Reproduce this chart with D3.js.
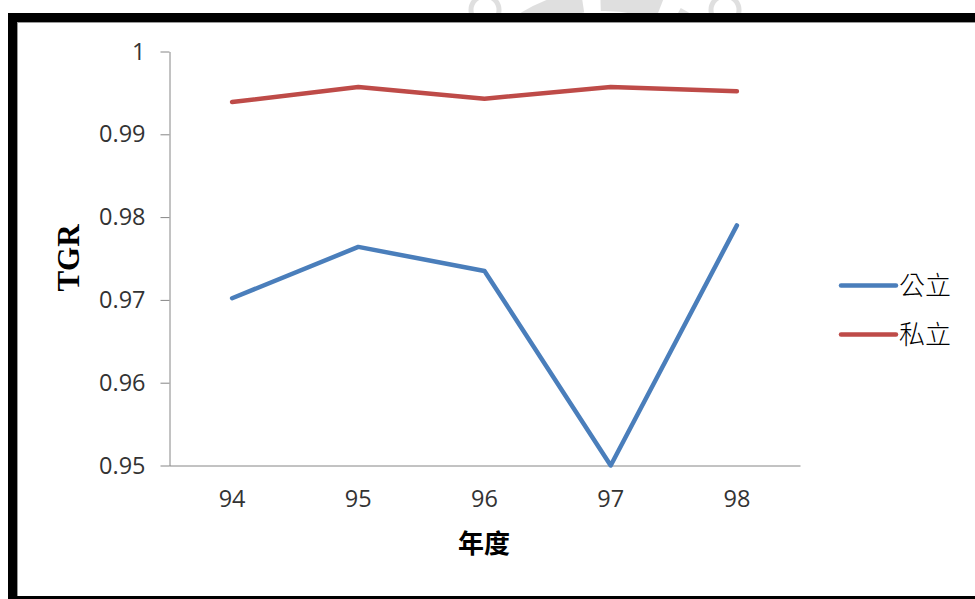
<!DOCTYPE html>
<html>
<head>
<meta charset="utf-8">
<script src="https://cdn.jsdelivr.net/npm/d3@7"></script>
<style>
  body { margin: 0; background: #fff; }
  svg { display: block; }
</style>
</head>
<body>
<div id="chart"></div>
<script>
var width = 975, height = 599;

// data
var years = ["94", "95", "96", "97", "98"];
var publicVals = [0.9702, 0.9764, 0.9735, 0.9500, 0.9790];
var privateVals = [0.9939, 0.9957, 0.9943, 0.9957, 0.9952];
var yTicks = [0.95, 0.96, 0.97, 0.98, 0.99, 1];
var seriesNames = ["公立", "私立"];
var seriesColors = ["#4a7ebb", "#be4b48"];

var svg = d3.select("#chart")
  .append("svg")
  .attr("width", width)
  .attr("height", height);

// faint seal watermark peeking above the frame
var wm = svg.append("g").attr("opacity", 0.3);
svg.append("clipPath").attr("id", "topclip")
  .append("rect").attr("x", 0).attr("y", 0).attr("width", width).attr("height", 14);
wm.attr("clip-path", "url(#topclip)");
wm.append("circle").attr("cx", 605).attr("cy", 150).attr("r", 150)
  .attr("fill", "none").attr("stroke", "#999").attr("stroke-width", 22)
  .attr("stroke-dasharray", "60,18");
wm.append("circle").attr("cx", 485).attr("cy", 10).attr("r", 14)
  .attr("fill", "none").attr("stroke", "#999").attr("stroke-width", 5);
wm.append("circle").attr("cx", 725).attr("cy", 10).attr("r", 14)
  .attr("fill", "none").attr("stroke", "#999").attr("stroke-width", 5);

// frame
svg.append("rect").attr("x", 8).attr("y", 13).attr("width", width - 8).attr("height", 9).attr("fill", "#000");
svg.append("rect").attr("x", 8).attr("y", 13).attr("width", 9).attr("height", height - 13).attr("fill", "#000");
svg.append("rect").attr("x", 8).attr("y", 596).attr("width", width - 8).attr("height", 3).attr("fill", "#000");
svg.append("line").attr("x1", 17).attr("x2", width).attr("y1", 22.5).attr("y2", 22.5).attr("stroke", "#999");
svg.append("line").attr("x1", 17.5).attr("x2", 17.5).attr("y1", 22).attr("y2", 596).attr("stroke", "#999");

var x = d3.scaleBand()
  .domain(years)
  .range([169, 800])
  .padding(0);

var y = d3.scaleLinear()
  .domain([0.95, 1])
  .range([465.5, 51.5]);

var axisColor = "#868686";
var tickFont = "'Open Sans', 'Liberation Sans', sans-serif";

var yAxis = svg.append("g")
  .attr("transform", "translate(169.5,0)")
  .call(d3.axisLeft(y).tickValues(yTicks).tickSize(9).tickSizeOuter(0).tickPadding(15)
    .tickFormat(function(d){ return d === 1 ? "1" : d3.format(".2f")(d); }));
yAxis.selectAll("path, line").attr("stroke", axisColor);
yAxis.selectAll("text")
  .attr("font-family", tickFont)
  .attr("font-size", 23.5)
  .attr("fill", "#333");

var xAxis = svg.append("g")
  .attr("transform", "translate(0,465.5)")
  .call(d3.axisBottom(x).tickSize(0).tickSizeOuter(0).tickPadding(25));
xAxis.selectAll("path, line").attr("stroke", axisColor);
xAxis.selectAll("text")
  .attr("font-family", tickFont)
  .attr("font-size", 23.5)
  .attr("fill", "#333");

var line = d3.line()
  .x(function(d, i){ return x(years[i]) + x.bandwidth() / 2; })
  .y(function(d){ return y(d); });

[publicVals, privateVals].forEach(function(vals, k){
  svg.append("path")
    .datum(vals)
    .attr("d", line)
    .attr("fill", "none")
    .attr("stroke", seriesColors[k])
    .attr("stroke-width", 4.5)
    .attr("stroke-linejoin", "round")
    .attr("stroke-linecap", "round");
});

// axis titles
svg.append("text")
  .attr("transform", "translate(79,258) rotate(-90)")
  .attr("text-anchor", "middle")
  .attr("font-family", "'Liberation Serif', 'Times New Roman', serif")
  .attr("font-weight", "bold")
  .attr("font-size", 31)
  .attr("fill", "#000")
  .text("TGR");

svg.append("text")
  .attr("x", 484)
  .attr("y", 553)
  .attr("text-anchor", "middle")
  .attr("font-family", "'Noto Sans CJK TC', sans-serif")
  .attr("font-weight", "bold")
  .attr("font-size", 26)
  .attr("fill", "#000")
  .text("年度");

// legend
var legend = svg.selectAll(".leg")
  .data(seriesNames)
  .join("g")
  .attr("class", "leg")
  .attr("transform", function(d, i){ return "translate(841," + (285.5 + i * 49) + ")"; });
legend.append("line")
  .attr("x1", 0).attr("x2", 55)
  .attr("stroke", function(d, i){ return seriesColors[i]; })
  .attr("stroke-width", 4.5)
  .attr("stroke-linecap", "round");
legend.append("text")
  .attr("x", 58)
  .attr("y", 9)
  .attr("font-family", "'Noto Sans CJK TC', sans-serif")
  .attr("font-weight", 300)
  .attr("font-size", 26)
  .attr("fill", "#000")
  .text(function(d){ return d; });
</script>
</body>
</html>
